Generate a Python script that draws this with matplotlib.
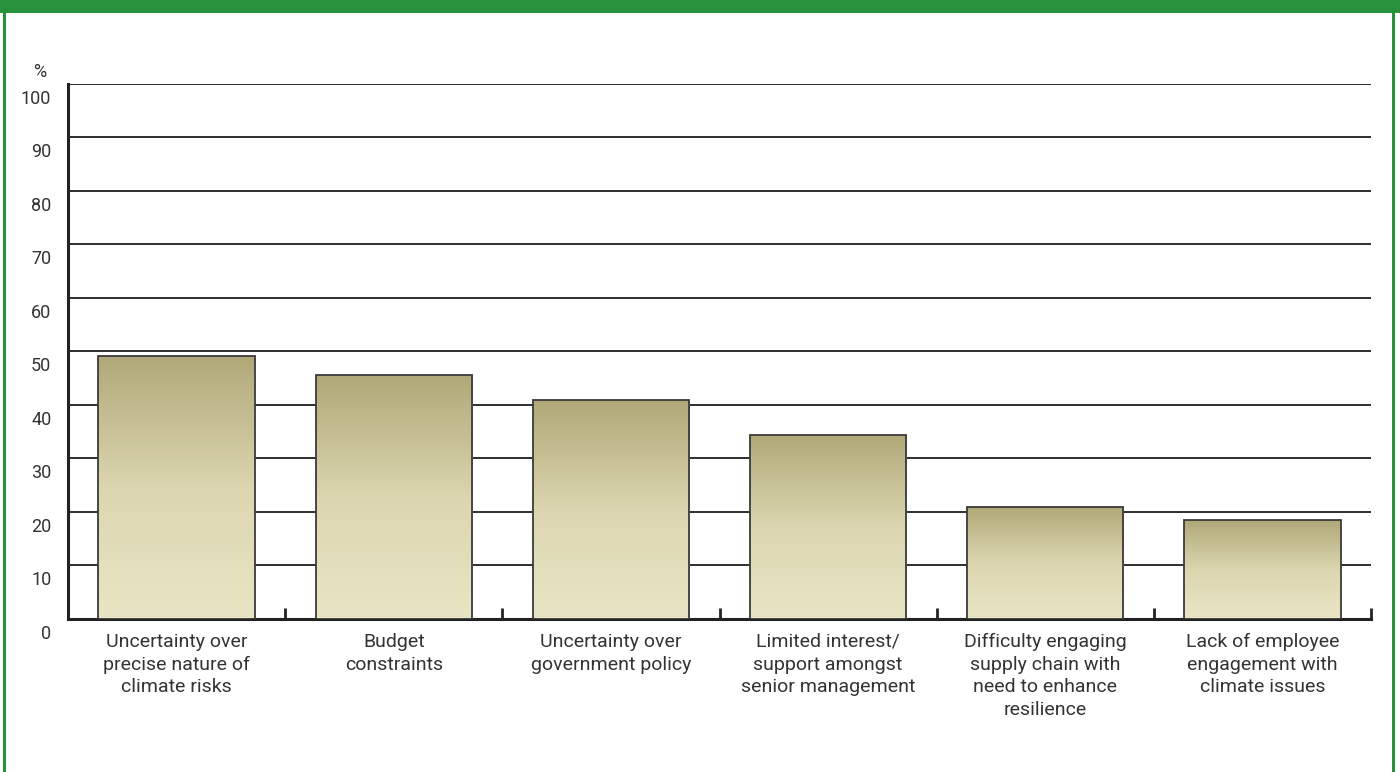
import matplotlib
matplotlib.use('Agg')
import matplotlib.pyplot as plt
import matplotlib.transforms as mtransforms
import numpy as np
from matplotlib.colors import LinearSegmentedColormap
from matplotlib.patches import Rectangle

# Barreiras à adaptação climática (% de respostas)
categorias = [
    'Uncertainty over\nprecise nature of\nclimate risks',
    'Budget\nconstraints',
    'Uncertainty over\ngovernment policy',
    'Limited interest/\nsupport amongst\nsenior management',
    'Difficulty engaging\nsupply chain with\nneed to enhance\nresilience',
    'Lack of employee\nengagement with\nclimate issues',
]
valores = [49.2, 45.6, 40.9, 34.4, 21.0, 18.5]
yticks = [0, 10, 20, 30, 40, 50, 60, 70, 80, 90, 100]

VERDE = '#27923b'
TEXTO = '#333333'
plt.rcParams['font.family'] = ['Roboto', 'DejaVu Sans']

fig = plt.figure(figsize=(14, 7.72), dpi=100)
ax = fig.add_axes([0.0486, 0.1982, 0.9307, 0.693])

# moldura verde
fig.patches.append(Rectangle((0, 1 - 13 / 772), 1, 13 / 772, transform=fig.transFigure,
                             facecolor=VERDE, edgecolor='none', zorder=10))
for x0 in (2.5 / 1400, 1391.5 / 1400):
    fig.patches.append(Rectangle((x0, 0), 3 / 1400, 1, transform=fig.transFigure,
                                 facecolor=VERDE, edgecolor='none', zorder=10))

n = len(categorias)
pos = np.arange(n)
largura = 0.72

gradiente = LinearSegmentedColormap.from_list('caqui', ['#e9e5c4', '#dcd6b0', '#b0a878'])
grad = np.linspace(0, 1, 256).reshape(-1, 1)

for x, v in zip(pos, valores):
    barra = Rectangle((x - largura / 2, 0), largura, v, facecolor='none',
                      edgecolor='#3a3a3a', linewidth=1.3, zorder=4)
    ax.add_patch(barra)
    img = ax.imshow(grad, cmap=gradiente, origin='lower', aspect='auto',
                    extent=(x - largura / 2, x + largura / 2, 0, v), zorder=3)
    img.set_clip_path(barra)

ax.set_xlim(-0.5, n - 0.5)
ax.set_ylim(0, 100)

for y in yticks[1:]:
    ax.axhline(y, color='#1e1e1e', linewidth=1.3, zorder=1)

ax.set_yticks(yticks)
ax.set_yticklabels([str(t) for t in yticks], fontsize=13, color=TEXTO)
ax.tick_params(axis='y', length=0, pad=12)
# rótulos do eixo y ficam um pouco abaixo da linha de grade
desloc = mtransforms.ScaledTranslation(0, -0.13, fig.dpi_scale_trans)
for lbl in ax.get_yticklabels():
    lbl.set_transform(lbl.get_transform() + desloc)

# marcas de separação entre categorias
ax.set_xticks(np.arange(n) + 0.5)
ax.set_xticklabels([])
ax.tick_params(axis='x', direction='in', length=8, width=2, color='#222222')
for x, rot in zip(pos, categorias):
    ax.text(x, -2.6, rot, ha='center', va='top', fontsize=14, color=TEXTO,
            linespacing=1.33, transform=ax.transData)

for lado in ('top', 'right'):
    ax.spines[lado].set_visible(False)
for lado in ('left', 'bottom'):
    ax.spines[lado].set_linewidth(2.2)
    ax.spines[lado].set_color('#222222')

ax.text(-0.0165, 1.005, '%', transform=ax.transAxes, ha='right', va='bottom',
        fontsize=13, color=TEXTO)

fig.savefig('out.png', dpi=100)
plt.close(fig)
